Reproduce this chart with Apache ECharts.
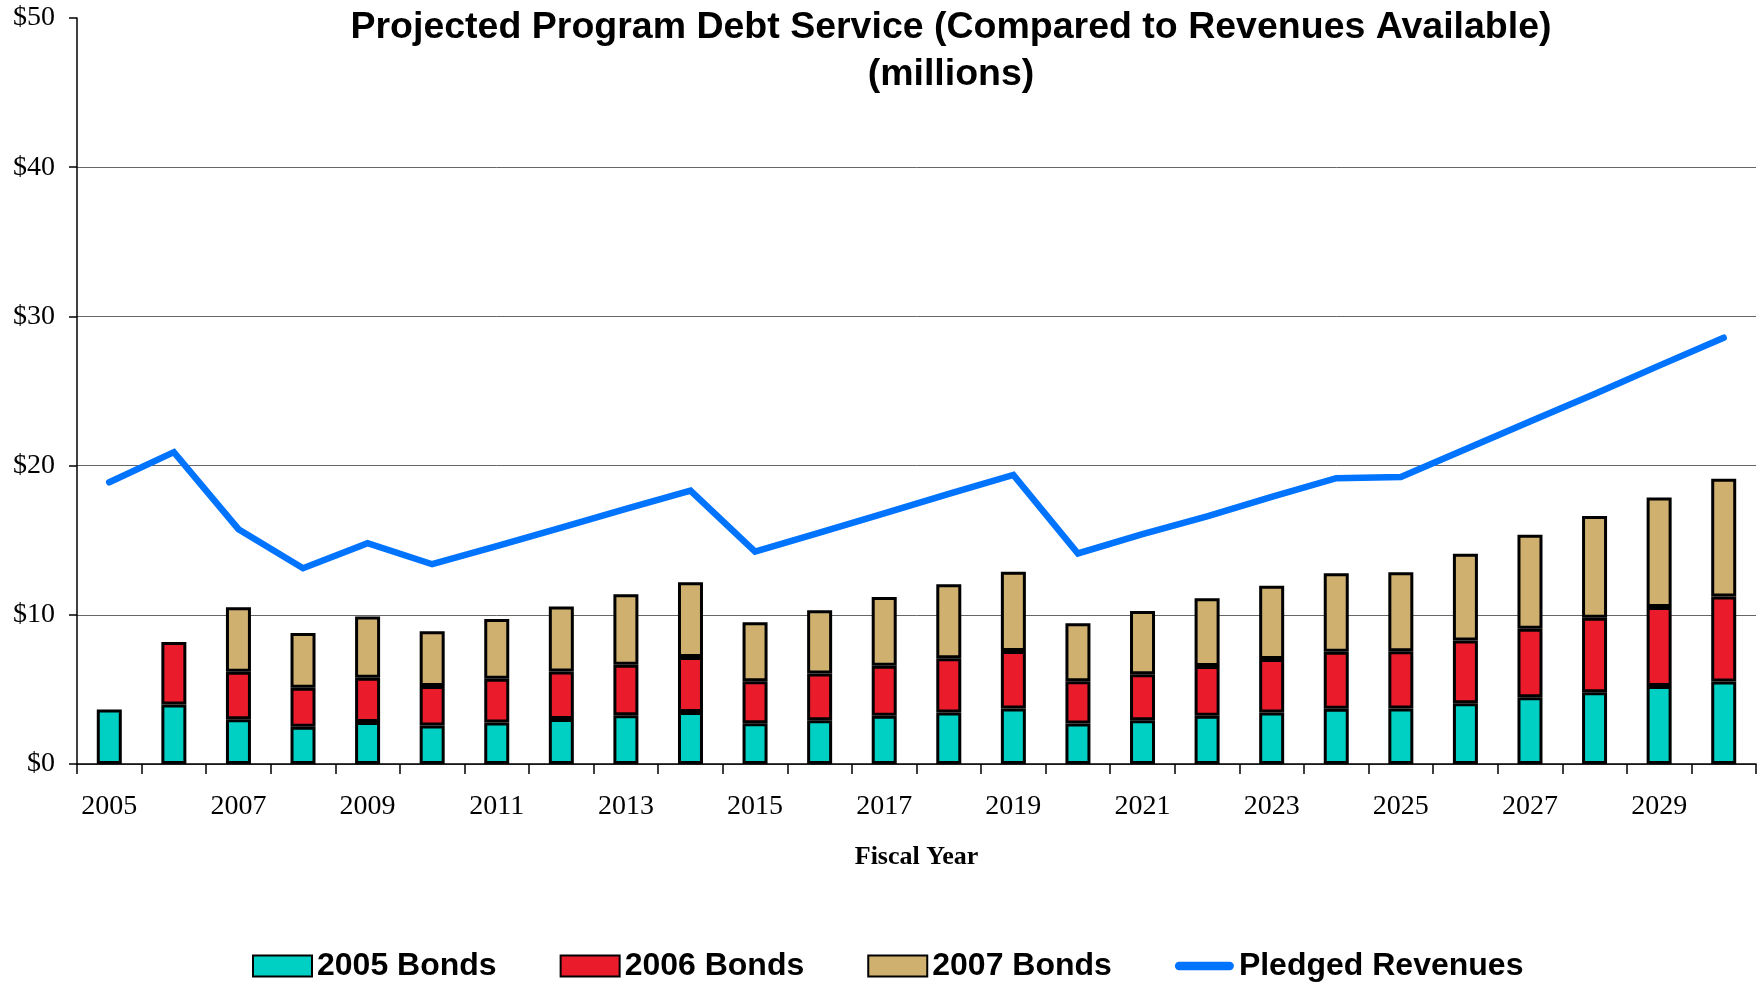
<!DOCTYPE html>
<html>
<head>
<meta charset="utf-8">
<script src="https://cdn.jsdelivr.net/npm/echarts@6/dist/echarts.min.js"></script>
<style>
html,body{margin:0;padding:0;background:#fff;}
#chart{width:1764px;height:982px;}
</style>
</head>
<body>
<div id="chart"></div>
<script>
const years = ['2005','2006','2007','2008','2009','2010','2011','2012','2013','2014','2015','2016','2017','2018','2019','2020','2021','2022','2023','2024','2025','2026','2027','2028','2029','2030'];
const bonds2005 = [3.65,3.99,3.00,2.49,2.82,2.58,2.78,3.02,3.27,3.49,2.73,2.93,3.23,3.45,3.72,2.71,2.93,3.23,3.45,3.70,3.72,4.08,4.47,4.81,5.22,5.53];
const bonds2006 = [null,4.18,3.18,2.62,2.96,2.64,2.93,3.18,3.38,3.68,2.82,3.14,3.35,3.63,3.85,2.84,3.09,3.33,3.58,3.83,3.83,4.20,4.60,4.99,5.30,5.69];
const bonds2007 = [null,null,4.32,3.67,4.10,3.67,4.01,4.35,4.73,5.01,3.95,4.23,4.62,4.97,5.31,3.88,4.24,4.55,4.92,5.26,5.31,5.82,6.30,6.82,7.35,7.90];
const pledgedRevenues = [18.88,20.90,15.74,13.12,14.80,13.39,14.60,15.85,17.10,18.32,14.24,15.50,16.80,18.10,19.37,14.11,15.40,16.60,17.90,19.16,19.23,21.10,22.96,24.80,26.70,28.57];
const yTicks = [0,10,20,30,40,50];

const chart = echarts.init(document.getElementById('chart'));
const serif = '"Liberation Serif","Times New Roman",serif';
const sans = '"Liberation Sans",Arial,sans-serif';
const barBase = {type:'bar', stack:'debt', barWidth:25};
chart.setOption({
  animation:false,
  title:{
    text:'Projected Program Debt Service (Compared to Revenues Available)\n(millions)',
    left:946, top:-1, textAlign:'center',
    textStyle:{fontFamily:sans, fontSize:37.5, fontWeight:'bold', color:'#000', lineHeight:47}
  },
  legend:{
    left:247, top:945, itemWidth:59, itemHeight:21, itemGap:63,
    textStyle:{fontFamily:sans, fontSize:32, fontWeight:'bold', color:'#000'},
    data:[
      {name:'2005 Bonds', icon:'rect'},
      {name:'2006 Bonds', icon:'rect'},
      {name:'2007 Bonds', icon:'rect'},
      {name:'Pledged Revenues', icon:'path://M4,0 L52,0 A4,4 0 0 1 52,8 L4,8 A4,4 0 0 1 4,0 Z', itemStyle:{color:'#0073FF', borderWidth:0}}
    ]
  },
  grid:{left:77, right:8, top:18, bottom:218},
  xAxis:{
    type:'category', data:years, boundaryGap:true,
    name:'Fiscal Year', nameLocation:'middle', nameGap:80,
    nameTextStyle:{fontFamily:serif, fontSize:26, fontWeight:'bold', color:'#000'},
    axisLine:{lineStyle:{color:'#000', width:1.5}},
    axisTick:{show:true, interval:0, length:10, lineStyle:{color:'#000', width:1.5}},
    axisLabel:{interval:1, margin:29, fontFamily:serif, fontSize:28, color:'#000'}
  },
  yAxis:{
    type:'value', min:0, max:50, interval:10,
    axisLine:{show:true, lineStyle:{color:'#000', width:1.5}},
    axisTick:{show:true, length:8, lineStyle:{color:'#000', width:1.5}},
    axisLabel:{margin:22, fontFamily:serif, fontSize:28, color:'#000', formatter:v => '$' + v},
    splitLine:{show:true, lineStyle:{color:['#666','#666','#666','#666','#666','rgba(0,0,0,0)'], width:1}}
  },
  series:[
    Object.assign({}, barBase, {name:'2005 Bonds', data:bonds2005, itemStyle:{color:'#00CFC3', borderColor:'#000', borderWidth:3}}),
    Object.assign({}, barBase, {name:'2006 Bonds', data:bonds2006, itemStyle:{color:'#EA1C2B', borderColor:'#000', borderWidth:3}}),
    Object.assign({}, barBase, {name:'2007 Bonds', data:bonds2007, itemStyle:{color:'#CFB06F', borderColor:'#000', borderWidth:3}}),
    {name:'Pledged Revenues', type:'line', data:pledgedRevenues, symbol:'none', z:5,
     itemStyle:{color:'#0073FF'},
     lineStyle:{color:'#0073FF', width:6.5, cap:'round', join:'miter'}}
  ]
});
</script>
</body>
</html>
